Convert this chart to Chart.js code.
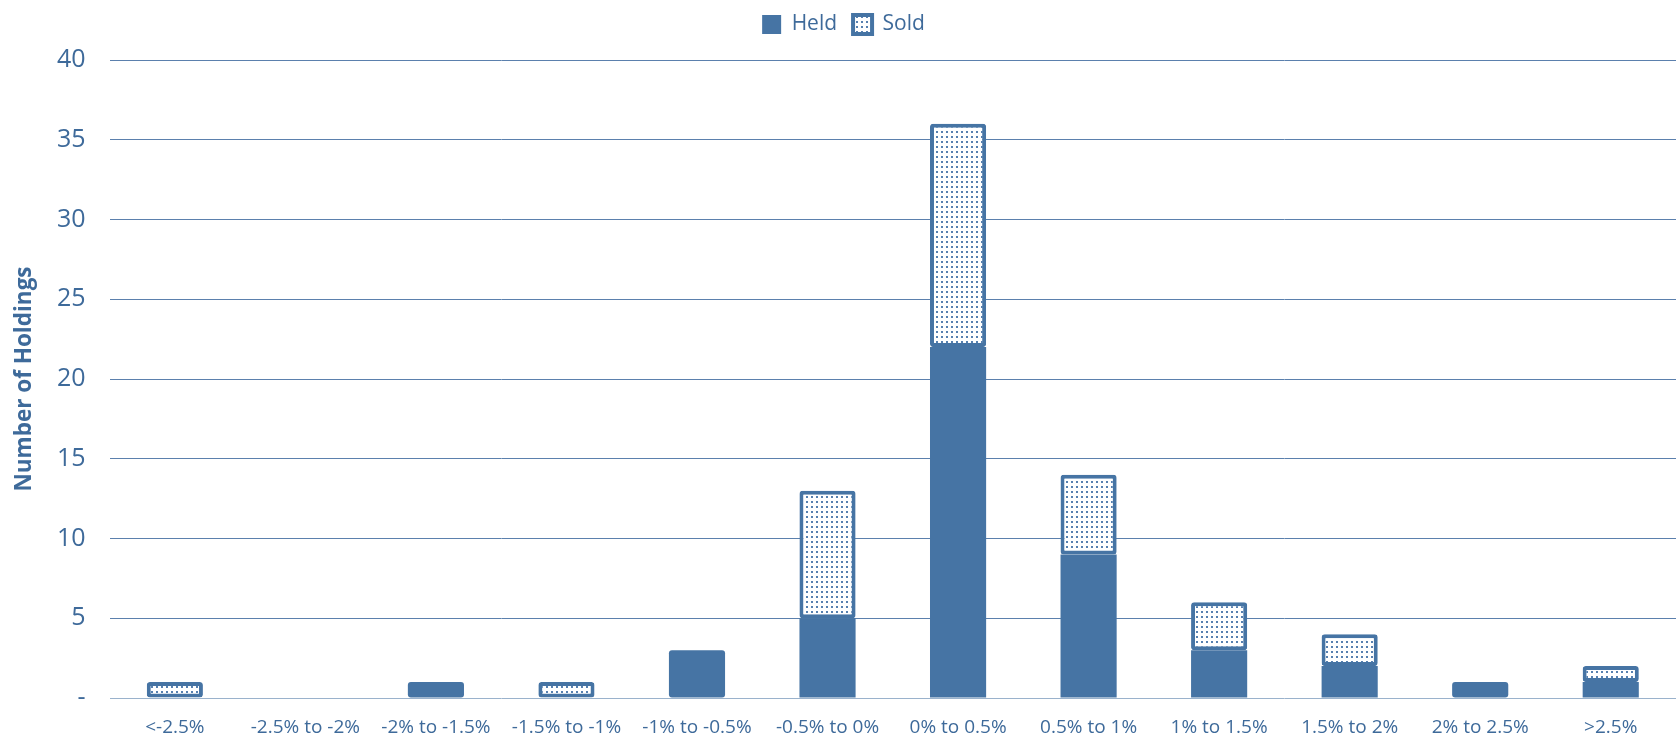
<!DOCTYPE html>
<html>
<head>
<meta charset="utf-8">
<script src="https://cdn.jsdelivr.net/npm/chart.js@4.4.1/dist/chart.umd.min.js"></script>
<style>
  html, body { margin: 0; padding: 0; background: #fff; }
  #wrap { width: 1676px; height: 737px; }
</style>
</head>
<body>
<div id="wrap"><canvas id="histChart"></canvas></div>
<script>
const categories = ['<-2.5%', '-2.5% to -2%', '-2% to -1.5%', '-1.5% to -1%', '-1% to -0.5%', '-0.5% to 0%',
                    '0% to 0.5%', '0.5% to 1%', '1% to 1.5%', '1.5% to 2%', '2% to 2.5%', '>2.5%'];
const held = [0, 0, 1, 0, 3, 5, 22, 9, 3, 2, 1, 1];
const sold = [1, 0, 0, 1, 0, 8, 14, 5, 3, 2, 0, 1];
const yTicks = [0, 5, 10, 15, 20, 25, 30, 35, 40];

const blue = '#4674a4';
const textBlue = '#3e6a9a';

// dotted fill for the Sold series
function dotPattern() {
    const c = document.createElement('canvas');
    c.width = 5; c.height = 5;
    const g = c.getContext('2d');
    g.fillStyle = '#ffffff';
    g.fillRect(0, 0, 5, 5);
    g.fillStyle = '#5680b0';
    g.fillRect(1, 1, 2, 2);
    return g.createPattern(c, 'repeat');
}

// push the plot down a bit under the legend
const legendGap = {
    id: 'legendGap',
    beforeInit(chart) {
        const origFit = chart.legend.fit;
        chart.legend.fit = function () {
            origFit.bind(chart.legend)();
            this.height += 15;
        };
    }
};

document.addEventListener('DOMContentLoaded', () => {
    const ctx = document.getElementById('histChart').getContext('2d');
    const pattern = dotPattern();
    new Chart(ctx, {
        type: 'bar',
        data: {
            labels: categories,
            datasets: [{
                label: 'Held',
                data: held,
                backgroundColor: blue,
                borderColor: blue,
                borderWidth: 0,
                borderRadius: 3,
                borderSkipped: false
            },
            {
                label: 'Sold',
                data: sold,
                backgroundColor: pattern,
                borderColor: blue,
                borderWidth: 4,
                borderRadius: 3,
                borderSkipped: false
            }]
        },
        plugins: [legendGap],
        options: {
            responsive: true,
            maintainAspectRatio: false,
            animation: false,
            layout: { padding: { left: 11, right: 0, top: -2, bottom: -20 } },
            datasets: { bar: { barPercentage: 0.86, categoryPercentage: 0.5 } },
            scales: {
                x: {
                    stacked: true,
                    grid: { display: false, drawTicks: false },
                    border: { display: false },
                    ticks: { color: textBlue, font: { family: 'Open Sans', size: 19 }, padding: 18, maxRotation: 0, autoSkip: false }
                },
                y: {
                    stacked: true,
                    min: 0,
                    max: 40,
                    afterBuildTicks: (axis) => { axis.ticks = yTicks.map(v => ({ value: v })); },
                    grid: {
                        drawTicks: false,
                        lineWidth: 1,
                        color: (c) => c.tick && c.tick.value === 0 ? '#9ab2cc' : '#5b80ad'
                    },
                    border: { display: false },
                    ticks: {
                        color: textBlue,
                        font: { family: 'Open Sans', size: 25 },
                        padding: 24,
                        callback: (v) => v === 0 ? '-' : v
                    },
                    title: {
                        display: true,
                        text: 'Number of Holdings',
                        color: textBlue,
                        font: { family: 'Open Sans', size: 22.5, weight: 'bold' },
                        padding: { top: 0, bottom: -5 }
                    }
                }
            },
            plugins: {
                legend: {
                    display: true,
                    position: 'top',
                    labels: {
                        color: textBlue,
                        font: { family: 'Open Sans', size: 21 },
                        boxWidth: 19,
                        boxHeight: 19,
                        padding: 16
                    }
                },
                tooltip: { enabled: false }
            }
        }
    });
});
</script>
</body>
</html>
